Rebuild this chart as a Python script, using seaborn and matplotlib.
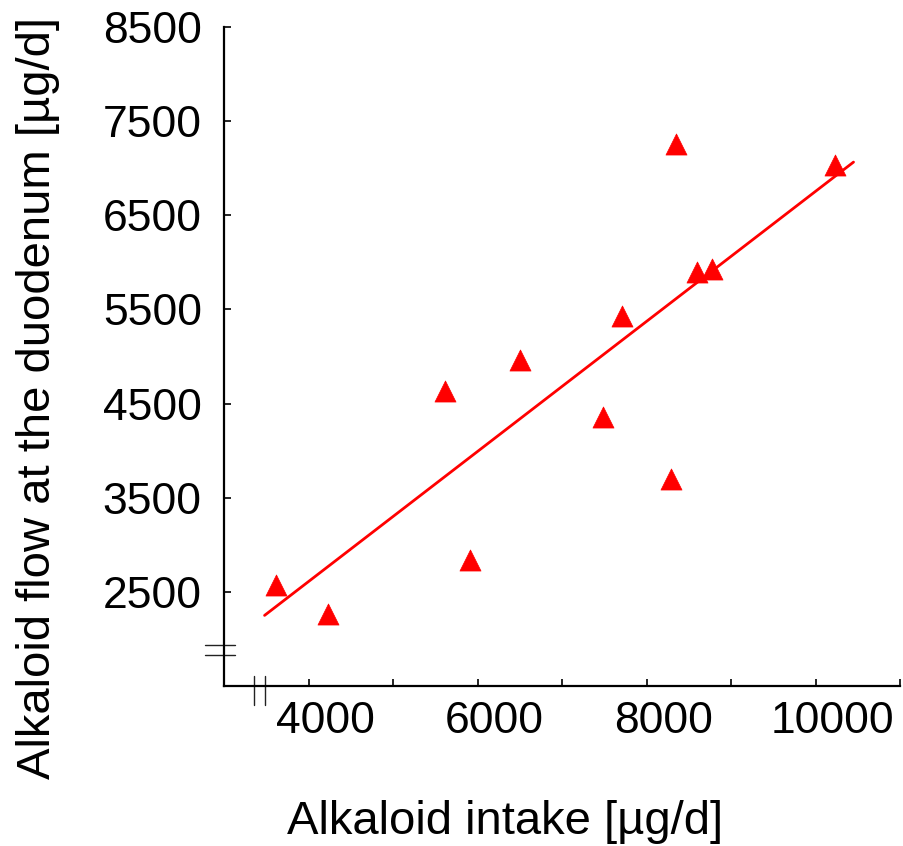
import numpy as np
import pandas as pd
import matplotlib
matplotlib.use("Agg")
import matplotlib.pyplot as plt
import seaborn as sns
from matplotlib.transforms import ScaledTranslation, blended_transform_factory

# Alkaloid intake vs. alkaloid flow at the duodenum (µg/d)
intake = [3616, 4225, 5912, 5620, 6507, 7713, 7488, 8286, 8351, 8600, 8777, 10232]
flow = [2574, 2263, 2839, 4632, 4967, 5433, 4359, 3701, 7261, 5901, 5933, 7036]

# Regression line end points
trend_intake = [3480, 10450]
trend_flow = [2250, 7065]

x_ticks = [4000, 5000, 6000, 7000, 8000, 9000, 10000, 11000]
x_tick_labels = ["4000", "", "6000", "", "8000", "", "10000", ""]
y_ticks = [2500, 3500, 4500, 5500, 6500, 7500, 8500]
y_tick_labels = ["2500", "3500", "4500", "5500", "6500", "7500", "8500"]

# axis-break positions
y_breaks = [1830, 1935]
x_breaks = [3360, 3480]

sns.set_theme(style="ticks")
plt.rcParams["font.family"] = ["Liberation Sans", "DejaVu Sans"]
plt.rcParams["text.color"] = "black"
plt.rcParams["axes.labelcolor"] = "black"

fig = plt.figure(figsize=(9.04, 8.46), dpi=100)
ax = fig.add_axes([224 / 904, 160 / 846, 676 / 904, 659 / 846])

df = pd.DataFrame({"intake": intake, "flow": flow})
sns.lineplot(x=trend_intake, y=trend_flow, color="red", linewidth=2.0, ax=ax)
sns.scatterplot(data=df, x="intake", y="flow", marker="^", s=230, color="red",
                edgecolor="red", linewidth=0.5, ax=ax, zorder=3)

ax.set_xlim(3000, 11000)
ax.set_ylim(1500, 8500)
ax.set_xticks(x_ticks)
ax.set_xticklabels(x_tick_labels)
ax.set_yticks(y_ticks)
ax.set_yticklabels(y_tick_labels)

sns.despine(ax=ax)
for side in ("left", "bottom"):
    ax.spines[side].set_linewidth(1.6)
    ax.spines[side].set_color("black")

ax.tick_params(direction="in", length=5, width=1.2, colors="black", labelsize=32)
ax.tick_params(axis="y", pad=16)
ax.tick_params(axis="x", pad=11)

# x labels sit a little right of their ticks
shift = ScaledTranslation(17 / 100, 0, fig.dpi_scale_trans)
for lab in ax.get_xticklabels():
    lab.set_transform(lab.get_transform() + shift)

# axis break marks
ty = blended_transform_factory(ax.transAxes, ax.transData)
for yb in y_breaks:
    ax.plot([-0.028, 0.016], [yb, yb], transform=ty, color="#222222",
            linewidth=1.0, clip_on=False)
tx = blended_transform_factory(ax.transData, ax.transAxes)
for xb in x_breaks:
    ax.plot([xb, xb], [-0.029, 0.015], transform=tx, color="#222222",
            linewidth=1.0, clip_on=False)

ax.set_xlabel("Alkaloid intake [µg/d]", fontsize=34, color="black")
ax.xaxis.set_label_coords(0.4157, -0.206)
ax.xaxis.label.set_verticalalignment("center")
ax.set_ylabel("Alkaloid flow at the duodenum [µg/d]", fontsize=34, color="black")
ax.yaxis.set_label_coords(-0.275, 0.437)
ax.yaxis.label.set_verticalalignment("center")

fig.savefig("out.png", dpi=100)
